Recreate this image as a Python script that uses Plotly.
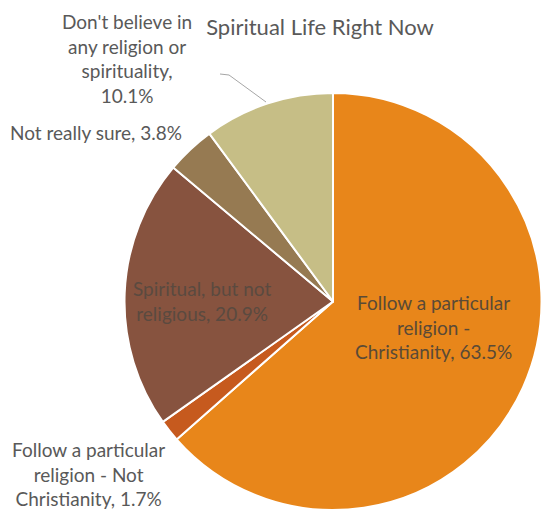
import plotly.graph_objects as go

# Survey shares, in clockwise order from 12 o'clock
labels = [
    "Follow a particular religion - Christianity",
    "Follow a particular religion - Not Christianity",
    "Spiritual, but not religious",
    "Not really sure",
    "Don't believe in any religion or spirituality",
]
values = [63.5, 1.7, 20.9, 3.8, 10.1]
colors = ["#E8861A", "#C65A1E", "#87533F", "#967A52", "#C6BE86"]

W, H = 544, 510
FONT = "Lato"
TXT = "#595959"
SIZE = 19

fig = go.Figure(
    go.Pie(
        labels=labels,
        values=values,
        sort=False,
        direction="clockwise",
        rotation=0,
        marker=dict(colors=colors, line=dict(color="white", width=2)),
        textinfo="none",
        hoverinfo="label+percent",
        domain=dict(x=[124 / W, 542 / W], y=[0, 1 - 93 / H]),
        showlegend=False,
    )
)

def label_text(i, breaks):
    return breaks.format(v=f"{values[i]:.1f}%")

annotations = [
    # inside labels
    dict(x=433, y=327, text=label_text(0, "Follow a particular<br>religion -<br>Christianity, {v}"),
         color="#5A4A36"),
    dict(x=202, y=301, text=label_text(2, "Spiritual, but not<br>religious, {v}"),
         color="#5A4A40"),
    # outside labels
    dict(x=127, y=58, text=label_text(4, "Don't believe in<br>any religion or<br>spirituality,<br>{v}"),
         color=TXT),
    dict(x=96, y=133, text=label_text(3, "Not really sure, {v}"), color=TXT),
    dict(x=88, y=474, text=label_text(1, "Follow a particular<br>religion - Not<br>Christianity, {v}"),
         color=TXT),
]

ann_objs = []
for a in annotations:
    ann_objs.append(dict(
        x=a["x"] / W, y=1 - a["y"] / H, xref="paper", yref="paper",
        text=a["text"], showarrow=False, align="center",
        xanchor="center", yanchor="middle",
        font=dict(family=FONT, size=SIZE, color=a["color"]),
    ))

# leader line for the "Don't believe" label
shapes = [dict(
    type="path", xref="paper", yref="paper",
    path=f"M {220/W},{1-74/H} L {229/W},{1-75/H} L {266/W},{1-102/H}",
    line=dict(color="#A6A6A6", width=1),
)]

fig.update_layout(
    width=W, height=H,
    margin=dict(l=0, r=0, t=0, b=0),
    paper_bgcolor="white",
    plot_bgcolor="white",
    title=dict(text="Spiritual Life Right Now", x=320 / W, xanchor="center",
               y=1 - 27 / H, yanchor="middle",
               font=dict(family=FONT, size=22, color=TXT)),
    annotations=ann_objs,
    shapes=shapes,
)

fig.write_html("out.html")
